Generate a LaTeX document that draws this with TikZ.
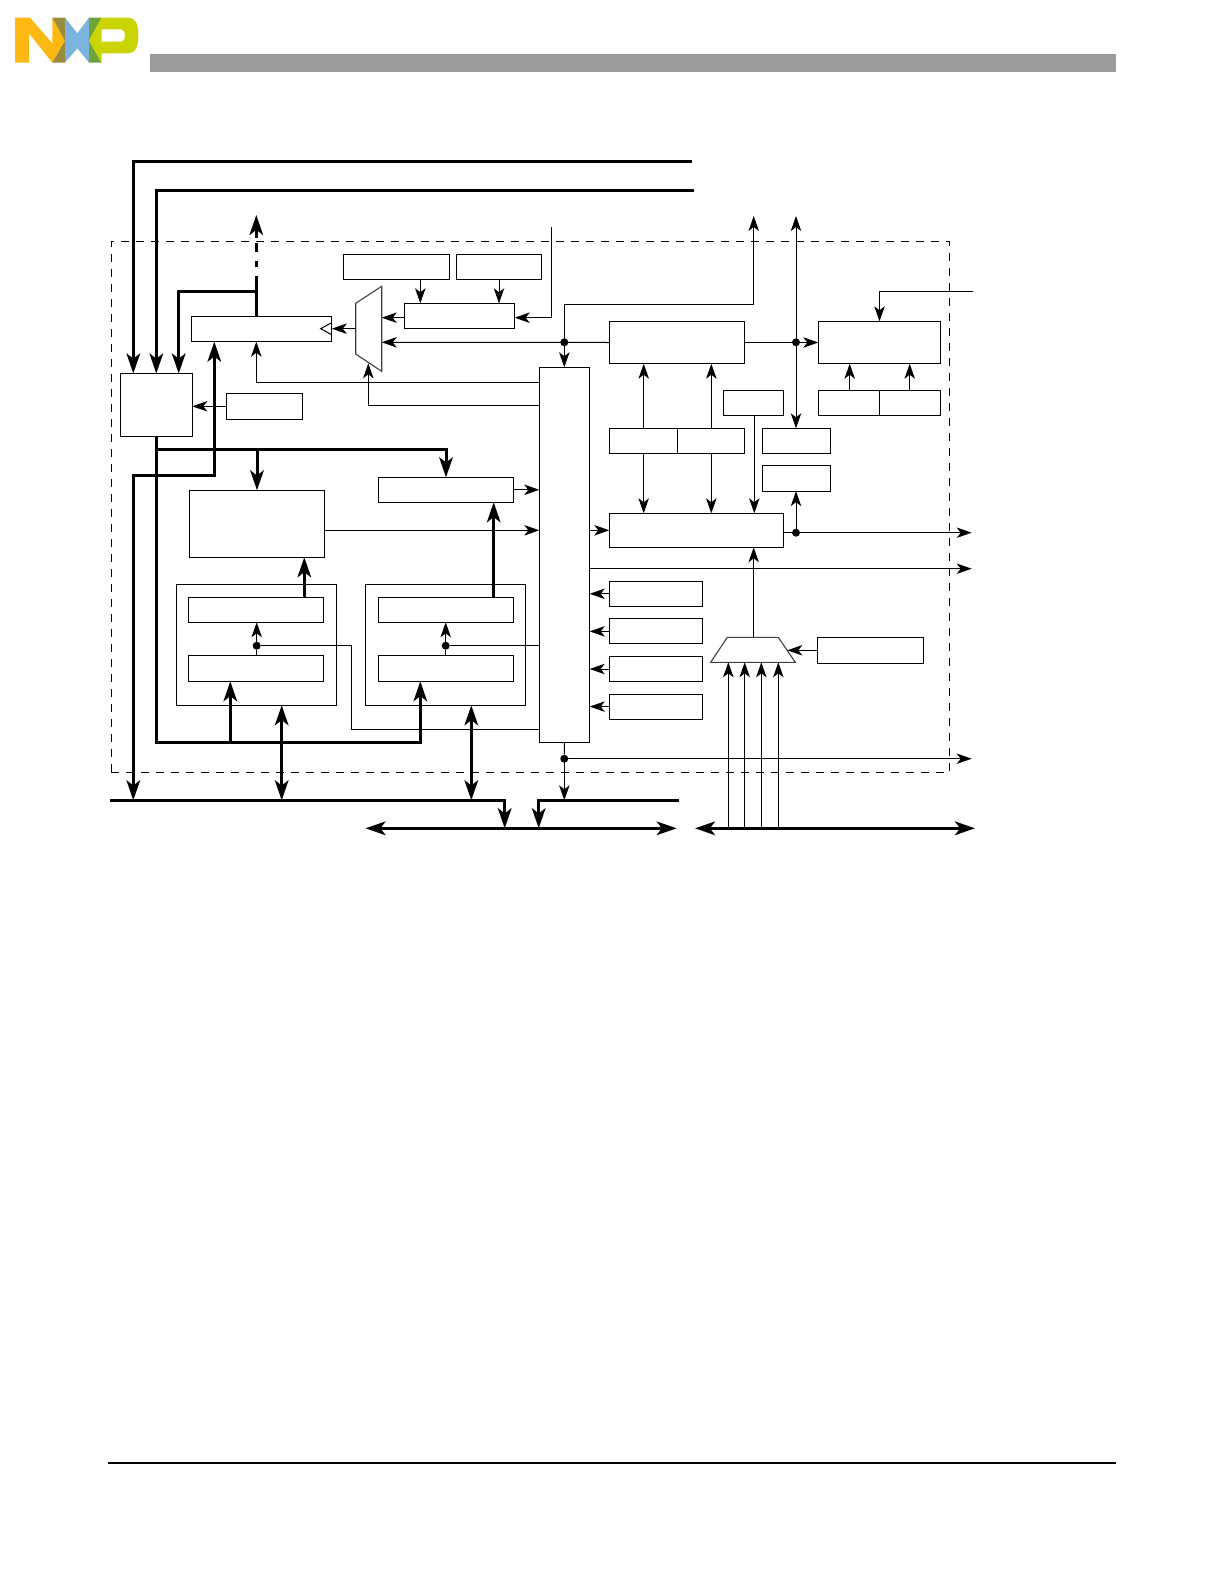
\documentclass[tikz,border=0pt]{standalone}
\usepackage{xcolor}
\usepackage{tikz}
\usetikzlibrary{arrows.meta,positioning}

\definecolor{nxpyellow}{HTML}{FDB813}
\definecolor{nxpbrown}{HTML}{9B8A3C}
\definecolor{nxpblue}{HTML}{7BB3DF}
\definecolor{nxpgreen}{HTML}{6FA23A}
\definecolor{nxplime}{HTML}{C9D400}
\definecolor{headbar}{HTML}{9B9B9B}

\begin{document}
\begin{tikzpicture}[
  x=.5pt, y=-.5pt,
  block/.style={draw=black, fill=white, anchor=north west, inner sep=0pt, outer sep=0pt, line width=.5pt},
  size/.style 2 args={minimum width=#1*.5pt, minimum height=#2*.5pt},
  edge/.style={-{Stealth[length=7.5pt,width=5.2pt,inset=2pt]}, draw=black, line width=.5pt},
  twoway/.style={{Stealth[length=7.5pt,width=5.2pt,inset=2pt]}-{Stealth[length=7.5pt,width=5.2pt,inset=2pt]}, draw=black, line width=.5pt},
  wire/.style={draw=black, line width=.5pt},
  busline/.style={draw=black, line width=1.5pt},
  bus/.style={-{Stealth[length=10pt,width=6.8pt,inset=2.6pt]}, draw=black, line width=1.5pt},
  twobus/.style={{Stealth[length=10pt,width=6.8pt,inset=2.6pt]}-{Stealth[length=10pt,width=6.8pt,inset=2.6pt]}, draw=black, line width=1.5pt},
  dot/.style={circle, fill=black, inner sep=0pt, minimum size=4pt},
  mux/.style={draw=black!75, fill=white, line width=.55pt}
]
\useasboundingbox (0,0) rectangle (1224,1584);

\begin{scope}[x=.16667pt, y=-.16667pt]
\fill[nxpyellow] (45,53)--(90,53)--(157,130)--(157,53)--(195,122)--(157,188)--(87,100)--(87,188)--(45,188)--cycle;
\fill[nxpbrown] (157,53)--(195,53)--(195,122)--cycle;
\fill[nxpbrown] (195,122)--(195,188)--(157,188)--cycle;
\fill[nxpblue] (195,53)--(232,100)--(267,53)--(267,188)--(232,145)--(195,188)--cycle;
\fill[nxpgreen] (267,53)--(305,53)--(267,122)--cycle;
\fill[nxpgreen] (267,122)--(305,188)--(267,188)--cycle;
\fill[nxplime, even odd rule] (305,53)--(385,53)..controls (405,53) and (415,70)..(415,105)..controls (415,140) and (405,160)..(385,160)--(305,160)--(305,188)--(267,122)--cycle
  (305,88)--(365,88)..controls (378,88) and (378,125)..(365,125)--(305,125)--cycle;
\end{scope}
\fill[headbar] (150,54) rectangle (1116,71.7);
\draw[black, line width=.75pt] (108,1463) -- (1116,1463);

\node[block, dashed, dash pattern=on 4pt off 3.5pt, fill=none, size={838.3}{531}] (core) at (111,241.5) {};

\node[block, size={72}{63}] (ctrl) at (120.3,373.5) {};
\node[block, size={140.5}{25}] (regbar) at (191.3,316.7) {};
\node[block, size={76.5}{26}] (tagbox) at (226.3,393.3) {};
\node[block, size={106.4}{25}] (srca) at (343.3,254.3) {};
\node[block, size={85.4}{25}] (srcb) at (456.3,254.3) {};
\node[block, size={110.4}{25}] (regc) at (404.3,303.3) {};
\node[block, size={135.4}{25}] (decode) at (378.3,477.3) {};
\node[block, size={135.4}{67}] (exec) at (189.3,490.3) {};
\node[block, size={160.4}{121}] (unita) at (176.3,584.3) {};
\node[block, size={135.4}{25}] (uppera) at (188.3,597.3) {};
\node[block, size={135.4}{26}] (lowera) at (188.3,655.3) {};
\node[block, size={160.4}{121}] (unitb) at (365.3,584.3) {};
\node[block, size={135.4}{25}] (upperb) at (378.3,597.3) {};
\node[block, size={135.4}{26}] (lowerb) at (378.3,655.3) {};
\node[block, size={50.4}{375}] (xbar) at (539.3,367.3) {};
\node[block, size={135.4}{42.4}] (regf) at (609.3,321.3) {};
\node[block, size={122.4}{42.4}] (regg) at (818.3,321.3) {};
\node[block, size={61.4}{25}] (regj) at (818.3,390.3) {};
\node[block, size={61}{25}, right=0pt of regj] (regk) {};
\node[block, size={60.4}{25}] (regl) at (723.3,390.3) {};
\node[block, size={68}{25.4}] (regn) at (609.3,428.3) {};
\node[block, size={67.4}{25.4}, right=0pt of regn] (rego) {};
\node[block, size={68.4}{25.4}] (regh) at (762.3,428.3) {};
\node[block, size={68.4}{25.4}, below=6pt of regh] (regi) {};
\node[block, size={174.4}{34}] (regm) at (609.3,513.3) {};
\node[block, size={93.4}{25}] (smalla) at (609.3,581.3) {};
\node[block, size={93.4}{25}, below=6.3pt of smalla] (smallb) {};
\node[block, size={93.4}{25}, below=6.3pt of smallb] (smallc) {};
\node[block, size={93.4}{25}, below=6.3pt of smallc] (smalld) {};
\node[block, size={106.4}{26}] (regp) at (817.3,637.3) {};

\draw[mux] (355.7,303.3)--(381.7,286.3)--(381.7,371.3)--(355.7,354)--cycle;
\draw[mux] (710.7,662.3)--(727.3,637.3)--(778.3,637.3)--(795.3,662.3)--cycle;
\draw[wire] (331.7,322.7)--(320.7,328.7)--(331.7,334.7);

\coordinate (muxaout) at (355.7,328.7);
\coordinate (muxain) at (381.7,317.7);
\coordinate (muxafb) at (381.7,342.3);
\coordinate (muxasel) at (368.3,363.3);
\coordinate (muxbout) at (753.7,637.3);
\coordinate (muxbsel) at (787.3,650.3);
\coordinate (topa) at (692,161.3);
\coordinate (topb) at (694,190.5);
\coordinate (upout) at (256.3,215);
\coordinate (upstem) at (256.3,238);
\coordinate (updasha) at (256.3,242.7);
\coordinate (updashb) at (256.3,266.7);
\coordinate (inpin) at (551.7,227.3);
\coordinate (uppin) at (753.7,216);
\coordinate (dbgpin) at (796,216);
\coordinate (extpin) at (973.3,291.3);
\coordinate (outa) at (971.7,532.7);
\coordinate (outb) at (971.7,568.7);
\coordinate (outc) at (971.7,758.7);
\coordinate (buswest) at (110,800.3);
\coordinate (buseast) at (679,800.3);
\coordinate (bustap) at (156.3,449.3);

\node[dot] (fork) at (564.3,342.3) {};
\node[dot] (forkf) at (796,342.3) {};
\node[dot] (forkm) at (796,532.7) {};
\node[dot] (forkx) at (564.3,758.7) {};
\node[dot] (forka) at (256.7,645.7) {};
\node[dot] (forkb) at (445.7,645.7) {};

\draw[bus] (topa) -| (ctrl.north -| 133.3,0);
\draw[bus] (topb) -| (ctrl.north);
\draw[bus] (regbar.north -| 256.3,0) |- (178.7,291.3) -- (ctrl.north -| 178.7,0);
\draw[busline] (regbar.north -| 256.3,0) -- (256.3,275.7);
\draw[busline, dash pattern=on 4.5pt off 4.5pt on 3pt off 10pt] (updasha) -- (updashb);
\draw[bus] (upstem) -- (upout);
\draw[twobus] (buswest -| 133.3,0) |- (214.3,475.3) -- (regbar.south -| 214.3,0);
\draw[bus] (ctrl.south) |- (230.3,742.3) -| (lowerb.south -| 420.3,0);
\draw[bus] (230.3,742.3) -- (lowera.south -| 230.3,0);
\draw[bus] (bustap) -| (decode.north);
\draw[bus] (bustap -| exec.north) -- (exec.north);
\draw[bus] (uppera.north -| 304.3,0) -- (exec.south -| 304.3,0);
\draw[bus] (upperb.north -| 493.7,0) -- (decode.south -| 493.7,0);
\draw[twobus] (unita.south -| 281.7,0) -- (buswest -| 281.7,0);
\draw[twobus] (unitb.south -| 471.3,0) -- (buswest -| 471.3,0);
\draw[bus] (buswest) -| (504.7,828.3);
\draw[bus] (buseast) -| (538.7,828.3);
\draw[twobus] (365.5,828.3) -- (676.7,828.3);
\draw[twobus] (695,828.3) -- (975,828.3);

\draw[edge] (tagbox.west) -- (ctrl.east |- tagbox.west);
\draw[edge] (muxaout) -- (regbar.east |- muxaout);
\draw[edge] (srca.south -| 420.3,0) -- (regc.north -| 420.3,0);
\draw[edge] (srcb.south) -- (regc.north -| srcb.south);
\draw[edge] (inpin) |- (regc.east |- muxain);
\draw[edge] (regc.west |- muxain) -- (muxain);
\draw[edge] (regf.west) -- (muxafb);
\draw[edge] (fork.center) -- (xbar.north -| fork);
\draw[edge] (fork.center) |- (uppin |- 0,304.7) -- (uppin);
\draw[edge] (xbar.west |- 0,382.7) -| (regbar.south -| 256.3,0);
\draw[edge] (xbar.west |- 0,405.3) -| (muxasel);
\draw[wire] (xbar.west |- 0,729.3) -- (351.3,729.3) |- (forka);
\draw[wire] (xbar.west |- forkb) -- (forkb);
\draw[wire] (lowera.north -| forka) -- (forka);
\draw[wire] (lowerb.north -| forkb) -- (forkb);
\draw[edge] (forka.center) -- (uppera.south -| forka);
\draw[edge] (forkb.center) -- (upperb.south -| forkb);
\draw[edge] (decode.east) -- (xbar.west |- decode.east);
\draw[edge] (exec.east |- 0,530.3) -- (xbar.west |- 0,530.3);
\draw[edge] (xbar.east |- regm.west) -- (regm.west);
\draw[edge] (xbar.east |- outb) -- (outb);
\draw[edge] (regm.east |- outa) -- (outa);
\draw[edge] (forkm.center) -- (regi.south -| forkm);
\draw[edge] (regf.east) -- (regg.west);
\draw[twoway] (dbgpin) -- (regh.north -| dbgpin);
\draw[edge] (extpin) -| (regg.north);
\draw[edge] (regj.north -| 849.7,0) -- (regg.south -| 849.7,0);
\draw[edge] (regk.north -| 909.7,0) -- (regg.south -| 909.7,0);
\foreach \x/\y in {regn/643.7,rego/711.3}{
  \draw[edge] (\x.north -| \y,0) -- (regf.south -| \y,0);
  \draw[edge] (\x.south -| \y,0) -- (regm.north -| \y,0);
}
\draw[edge] (regl.south -| 754.3,0) -- (regm.north -| 754.3,0);
\draw[edge] (muxbout) -- (regm.south -| muxbout);
\draw[edge] (regp.west |- muxbsel) -- (muxbsel);
\foreach \x in {smalla,smallb,smallc,smalld}{
  \draw[edge] (\x.west) -- (xbar.east |- \x.west);
}
\foreach \x in {728.3,744.7,761.3,778.3}{
  \draw[edge] (\x,828.3) -- (\x,662.3);
}
\draw[wire] (xbar.south) -- (forkx);
\draw[edge] (forkx.center) -- (buseast -| forkx);
\draw[edge] (forkx.center) -- (outc);
\end{tikzpicture}
\end{document}
